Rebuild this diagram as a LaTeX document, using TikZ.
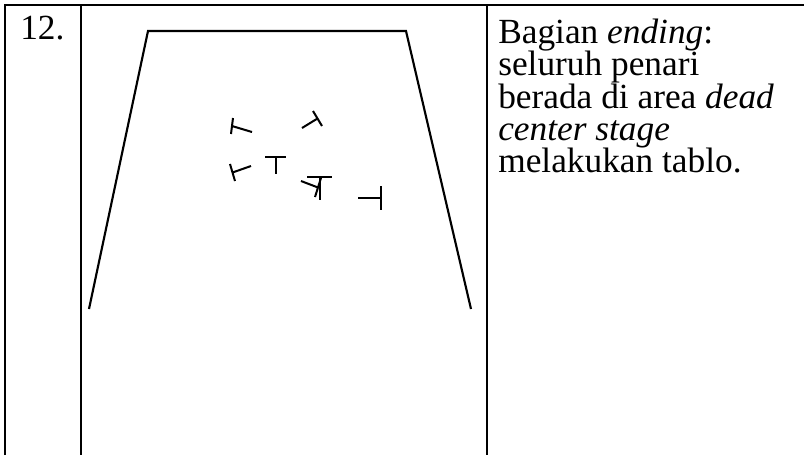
\documentclass[tikz,border=0pt]{standalone}
\usepackage{fontspec}
\setmainfont{Liberation Serif}
\tikzset{
    tableline/.style = {line width=1.5pt, draw=black},
    stage/.style = {line width=1.6pt, draw=black, line join=miter},
    dancer/.style = {line width=1.5pt, draw=black},
    celltext/.style = {anchor=base west, inner sep=0pt, font=\fontsize{26.5}{30}\selectfont},
}
\begin{document}
\begin{tikzpicture}[x=0.75pt, y=-0.75pt]
  \useasboundingbox (0,0) rectangle (804,455);

  % table lines
  \draw[tableline] (4.5,455) -- (4.5,4.5) -- (804,4.5);
  \draw[tableline] (81,4.5) -- (81,455);
  \draw[tableline] (487,4.5) -- (487,455);

  % number cell
  \node[celltext] (num) at (20,39) {12.};

  % stage outline
  \draw[stage] (89,309) -- (148,31) -- (406,31) -- (471,309);

  % dancers
  \draw[dancer] (233,118) -- (231,134) (232,126) -- (252,132);
  \draw[dancer] (313,111) -- (322,126) (317.5,118.5) -- (302,128);
  \draw[dancer] (230,164) -- (235,181) (232.5,172.5) -- (251,166);
  \draw[dancer] (265,157) -- (286,157) (275.5,157) -- (275.5,174);
  \draw[dancer] (307,177) -- (332,177) (319.5,177) -- (319.5,200);
  \draw[dancer] (321,178) -- (315,197) (318,187.5) -- (301,181);
  \draw[dancer] (381,186) -- (381,210) (381,198) -- (358,198);

  % description cell
  \node[celltext] (l1) at (498,43) {Bagian \textit{ending}:};
  \node[celltext] (l2) at (498,75.5) {seluruh penari};
  \node[celltext] (l3) at (498,108) {berada di area \textit{dead}};
  \node[celltext] (l4) at (498,140) {\textit{center stage}};
  \node[celltext] (l5) at (498,172.5) {melakukan tablo.};
\end{tikzpicture}
\end{document}
